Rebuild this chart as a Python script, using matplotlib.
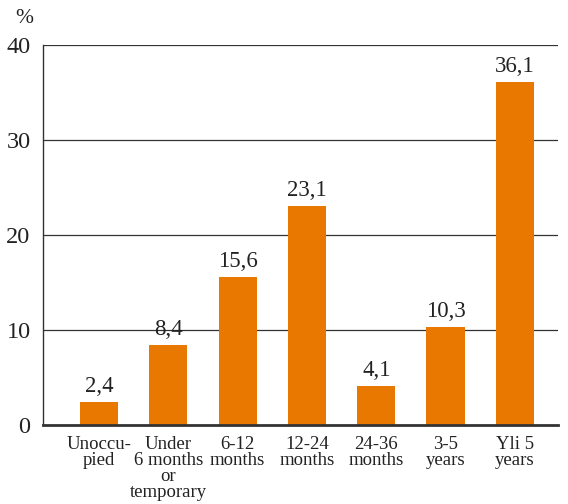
import matplotlib
matplotlib.use("Agg")
import matplotlib.pyplot as plt
import numpy as np

categories = ["Unoccu-\npied", "Under\n6 months\nor\ntemporary", "6-12\nmonths",
              "12-24\nmonths", "24-36\nmonths", "3-5\nyears", "Yli 5\nyears"]
values = [2.4, 8.4, 15.6, 23.1, 4.1, 10.3, 36.1]
yticks = [0, 10, 20, 30, 40]

plt.rcParams['font.family'] = ['Liberation Serif', 'DejaVu Serif']

fig = plt.figure(figsize=(5.68, 5.04), dpi=100)
ax = fig.add_axes([0.0757, 0.1567, 0.9063, 0.754])

x = np.arange(len(values))
ax.bar(x, values, width=0.55, color="#E87800", zorder=3)

for xi, v in zip(x, values):
    ax.text(xi, v + 0.5, f"{v:.1f}".replace(".", ","), ha="center", va="bottom",
            fontsize=16.5, color="#222222")

ax.set_xlim(-0.81, 6.62)
ax.set_ylim(0, 40)
ax.set_yticks(yticks)
ax.set_yticklabels([str(t) for t in yticks], fontsize=17.5, color="#222222")
ax.set_xticks(x)
ax.set_xticklabels(categories, fontsize=13.5, color="#222222", linespacing=0.92)
ax.tick_params(axis="y", length=0, pad=9)
ax.tick_params(axis="x", length=0, pad=8)

for t in yticks[1:]:
    ax.axhline(t, color="#333333", linewidth=0.9, zorder=1)

ax.spines["top"].set_visible(False)
ax.spines["right"].set_visible(False)
ax.spines["left"].set_linewidth(1.0)
ax.spines["left"].set_color("#333333")
ax.spines["bottom"].set_linewidth(2.0)
ax.spines["bottom"].set_color("#333333")
ax.spines["bottom"].set_zorder(4)

fig.text(0.026, 0.955, "%", fontsize=15.5, color="#222222")

fig.savefig("out.png", dpi=100)
